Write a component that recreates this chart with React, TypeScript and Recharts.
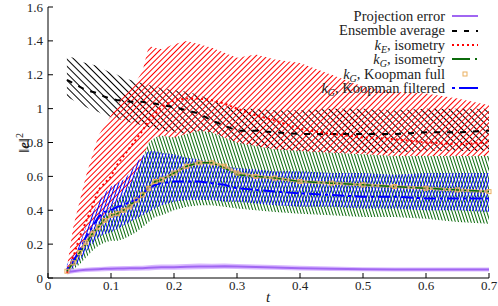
import React from "react";
import { ComposedChart, Area, Line, XAxis, YAxis } from "recharts";

const t = [0.03, 0.04, 0.05, 0.06, 0.07, 0.08, 0.09, 0.1, 0.11, 0.12, 0.13, 0.14, 0.15, 0.16, 0.17, 0.18, 0.2, 0.22, 0.24, 0.26, 0.28, 0.3, 0.33, 0.36, 0.4, 0.45, 0.5, 0.55, 0.6, 0.65, 0.7];

const projErr = [0.035, 0.04, 0.045, 0.048, 0.05, 0.052, 0.054, 0.055, 0.056, 0.056, 0.057, 0.057, 0.058, 0.06, 0.062, 0.063, 0.064, 0.066, 0.068, 0.068, 0.07, 0.068, 0.065, 0.062, 0.058, 0.055, 0.052, 0.05, 0.05, 0.05, 0.05];
const projLo = [0.02, 0.028, 0.032, 0.035, 0.037, 0.039, 0.04, 0.041, 0.042, 0.042, 0.043, 0.043, 0.044, 0.045, 0.047, 0.048, 0.049, 0.05, 0.052, 0.053, 0.054, 0.053, 0.05, 0.048, 0.045, 0.042, 0.04, 0.038, 0.038, 0.038, 0.038];
const projHi = [0.05, 0.054, 0.058, 0.061, 0.063, 0.065, 0.067, 0.069, 0.07, 0.071, 0.071, 0.072, 0.073, 0.075, 0.078, 0.079, 0.08, 0.082, 0.085, 0.084, 0.086, 0.083, 0.08, 0.077, 0.072, 0.068, 0.064, 0.062, 0.062, 0.062, 0.062];

const ensMean = [1.17, 1.15, 1.13, 1.11, 1.1, 1.09, 1.07, 1.06, 1.05, 1.05, 1.04, 1.04, 1.04, 1.03, 1.03, 1.02, 1.01, 0.99, 0.97, 0.93, 0.9, 0.87, 0.87, 0.86, 0.85, 0.85, 0.85, 0.85, 0.86, 0.86, 0.87];
const ensLo = [1.07, 1.05, 1.03, 1.01, 0.99, 0.98, 0.96, 0.95, 0.94, 0.93, 0.92, 0.91, 0.9, 0.89, 0.88, 0.87, 0.86, 0.85, 0.82, 0.79, 0.77, 0.75, 0.75, 0.74, 0.74, 0.74, 0.74, 0.74, 0.75, 0.75, 0.75];
const ensHi = [1.31, 1.3, 1.28, 1.27, 1.26, 1.25, 1.23, 1.21, 1.2, 1.18, 1.17, 1.16, 1.15, 1.14, 1.13, 1.12, 1.11, 1.1, 1.08, 1.05, 1.02, 1.0, 1.0, 0.99, 0.99, 1.0, 1.0, 0.99, 1.0, 1.0, 1.0];

const kEMean = [0.03, 0.12, 0.24, 0.33, 0.42, 0.52, 0.56, 0.6, 0.67, 0.72, 0.77, 0.82, 0.87, 0.93, 0.97, 1.01, 1.05, 1.06, 1.06, 1.05, 1.03, 1.0, 0.96, 0.93, 0.88, 0.85, 0.83, 0.82, 0.8, 0.79, 0.8];
const kELo = [0.03, 0.07, 0.13, 0.2, 0.27, 0.33, 0.38, 0.42, 0.46, 0.5, 0.55, 0.6, 0.64, 0.68, 0.72, 0.76, 0.8, 0.83, 0.84, 0.83, 0.8, 0.78, 0.75, 0.72, 0.7, 0.68, 0.66, 0.65, 0.63, 0.62, 0.6];
const kEHi = [0.06, 0.3, 0.45, 0.6, 0.72, 0.84, 0.9, 0.96, 1.02, 1.08, 1.12, 1.16, 1.22, 1.37, 1.36, 1.35, 1.38, 1.4, 1.38, 1.36, 1.33, 1.3, 1.32, 1.29, 1.27, 1.2, 1.13, 1.1, 1.09, 1.06, 1.02];

const kGIsoMean = [0.04, 0.09, 0.15, 0.2, 0.26, 0.3, 0.35, 0.37, 0.38, 0.4, 0.43, 0.46, 0.49, 0.54, 0.57, 0.58, 0.62, 0.66, 0.68, 0.68, 0.65, 0.61, 0.6, 0.59, 0.57, 0.56, 0.55, 0.54, 0.53, 0.52, 0.51];
const kGIsoLo = [0.03, 0.05, 0.08, 0.12, 0.16, 0.19, 0.21, 0.22, 0.22, 0.23, 0.25, 0.27, 0.3, 0.33, 0.36, 0.37, 0.4, 0.42, 0.43, 0.43, 0.42, 0.41, 0.4, 0.39, 0.38, 0.37, 0.36, 0.36, 0.35, 0.33, 0.32];
const kGIsoHi = [0.05, 0.1, 0.15, 0.22, 0.28, 0.33, 0.38, 0.42, 0.46, 0.5, 0.55, 0.62, 0.7, 0.8, 0.83, 0.84, 0.83, 0.85, 0.87, 0.86, 0.83, 0.8, 0.78, 0.76, 0.75, 0.74, 0.73, 0.72, 0.72, 0.72, 0.72];

const kGFull = [0.04, 0.09, 0.15, 0.21, 0.26, 0.3, 0.34, 0.37, 0.38, 0.4, 0.42, 0.46, 0.49, 0.53, 0.57, 0.58, 0.62, 0.66, 0.68, 0.68, 0.66, 0.62, 0.6, 0.59, 0.57, 0.56, 0.55, 0.54, 0.53, 0.52, 0.51];

const kGFiltMean = [0.05, 0.1, 0.16, 0.24, 0.3, 0.36, 0.39, 0.4, 0.42, 0.43, 0.45, 0.46, 0.5, 0.53, 0.55, 0.56, 0.57, 0.57, 0.57, 0.56, 0.55, 0.53, 0.52, 0.51, 0.5, 0.49, 0.48, 0.48, 0.47, 0.47, 0.47];
const kGFiltLo = [0.03, 0.06, 0.1, 0.15, 0.2, 0.24, 0.26, 0.27, 0.29, 0.31, 0.33, 0.35, 0.37, 0.39, 0.41, 0.43, 0.45, 0.46, 0.46, 0.46, 0.45, 0.45, 0.44, 0.43, 0.42, 0.42, 0.41, 0.41, 0.4, 0.4, 0.39];
const kGFiltHi = [0.08, 0.13, 0.2, 0.3, 0.38, 0.45, 0.5, 0.54, 0.56, 0.58, 0.62, 0.68, 0.72, 0.75, 0.75, 0.74, 0.73, 0.71, 0.7, 0.68, 0.66, 0.65, 0.64, 0.63, 0.63, 0.62, 0.62, 0.61, 0.62, 0.62, 0.62];

const xTicks = [0, 0.1, 0.2, 0.3, 0.4, 0.5, 0.6, 0.7];
const yTicks = [0, 0.2, 0.4, 0.6, 0.8, 1, 1.2, 1.4, 1.6];

const data = t.map((x, i) => ({
  t: x,
  proj: projErr[i],
  projBand: [projLo[i], projHi[i]],
  ens: ensMean[i],
  ensBand: [ensLo[i], ensHi[i]],
  kE: kEMean[i],
  kEBand: [kELo[i], kEHi[i]],
  kGIso: kGIsoMean[i],
  kGIsoBand: [kGIsoLo[i], kGIsoHi[i]],
  kGFull: kGFull[i],
  kGFilt: kGFiltMean[i],
  kGFiltBand: [kGFiltLo[i], kGFiltHi[i]],
}));

const FONT = "'Liberation Serif', 'DejaVu Serif', serif";
const PURPLE = "#a066f2";
const GREEN = "#0b6b0b";
const ORANGE = "#eab060";

function Sq(props: any) {
  const { cx, cy } = props;
  if (cx == null || cy == null) return <g />;
  return <rect x={cx - 2} y={cy - 2} width={4} height={4} fill="none" stroke={ORANGE} strokeWidth={1} />;
}

const sub = (s: string) => <sub style={{ fontSize: 10, fontStyle: "italic", verticalAlign: "-3px", lineHeight: 0 }}>{s}</sub>;

const legendRows: { label: React.ReactNode; sample: React.ReactNode }[] = [
  { label: "Projection error", sample: <line x1={0} x2={26} y1={7} y2={7} stroke={PURPLE} strokeWidth={2} /> },
  { label: "Ensemble average", sample: <line x1={0} x2={26} y1={7} y2={7} stroke="#000" strokeWidth={2} strokeDasharray="5 7" /> },
  { label: <><i>k</i>{sub("E")}, isometry</>, sample: <line x1={0} x2={26} y1={7} y2={7} stroke="#f00" strokeWidth={2} strokeDasharray="2 3" /> },
  { label: <><i>k</i>{sub("G")}, isometry</>, sample: <line x1={0} x2={26} y1={7} y2={7} stroke={GREEN} strokeWidth={2} strokeDasharray="18 5 2 5" /> },
  { label: <><i>k</i>{sub("G")}, Koopman full</>, sample: <rect x={11} y={5} width={4} height={4} fill="none" stroke={ORANGE} /> },
  { label: <><i>k</i>{sub("G")}, Koopman filtered</>, sample: <line x1={0} x2={26} y1={7} y2={7} stroke="#00f" strokeWidth={2} strokeDasharray="3 4 19 4" /> },
];

export default function App() {
  return (
    <div style={{ position: "absolute", left: 0, top: 0, width: 498, height: 306, background: "#fff", fontFamily: FONT }}>
      <ComposedChart width={498} height={306} data={data} margin={{ top: 7, right: 9, bottom: 0, left: 0 }}>
        <defs>
          <pattern id="hBlack" width={5} height={5} patternUnits="userSpaceOnUse" patternTransform="rotate(-45)">
            <line x1={0} y1={0} x2={0} y2={5} stroke="#000" strokeWidth={1} shapeRendering="crispEdges" />
          </pattern>
          <pattern id="hRed" width={4} height={4} patternUnits="userSpaceOnUse" patternTransform="rotate(45)">
            <line x1={0} y1={0} x2={0} y2={4} stroke="#f00" strokeWidth={1} shapeRendering="crispEdges" />
          </pattern>
          <pattern id="hGreen" width={3} height={6} patternUnits="userSpaceOnUse" patternTransform="rotate(-18)">
            <rect x={0} y={0} width={3} height={6} fill="#fff" />
            <line x1={1} y1={0} x2={1} y2={6} stroke={GREEN} strokeWidth={1} shapeRendering="crispEdges" />
          </pattern>
          <pattern id="hBlue" width={3} height={6} patternUnits="userSpaceOnUse" patternTransform="rotate(18)">
            <line x1={1} y1={0} x2={1} y2={6} stroke="#00f" strokeWidth={1} shapeRendering="crispEdges" />
          </pattern>
        </defs>
        <XAxis
          dataKey="t"
          type="number"
          domain={[0, 0.7]}
          ticks={xTicks}
          interval={0}
          height={28}
          stroke="#000"
          tickSize={-5}
          tickMargin={8}
          tick={{ fill: "#222", fontSize: 13, fontFamily: FONT }}
        />
        <XAxis xAxisId="top" orientation="top" dataKey="t" type="number" domain={[0, 0.7]} ticks={xTicks} height={0} stroke="#000" tickSize={-5} tick={false} />
        <YAxis
          type="number"
          domain={[0, 1.6]}
          ticks={yTicks}
          interval={0}
          width={48}
          stroke="#000"
          tickSize={-5}
          tickMargin={10}
          tick={{ fill: "#222", fontSize: 13, fontFamily: FONT }}
        />
        <YAxis yAxisId="right" orientation="right" type="number" domain={[0, 1.6]} ticks={yTicks} width={0} stroke="#000" tickSize={-5} tick={false} />

        <Area dataKey="ensBand" stroke="none" fill="url(#hBlack)" fillOpacity={1} isAnimationActive={false} activeDot={false} />
        <Area dataKey="kEBand" stroke="none" fill="url(#hRed)" fillOpacity={1} isAnimationActive={false} activeDot={false} />
        <Area dataKey="kGIsoBand" stroke="none" fill="url(#hGreen)" fillOpacity={1} isAnimationActive={false} activeDot={false} />
        <Area dataKey="kGFiltBand" stroke="none" fill="url(#hBlue)" fillOpacity={1} isAnimationActive={false} activeDot={false} />
        <Area dataKey="projBand" stroke="none" fill="#cfa8ff" fillOpacity={0.8} isAnimationActive={false} activeDot={false} />

        <Line dataKey="proj" stroke={PURPLE} strokeWidth={2} dot={false} isAnimationActive={false} />
        <Line dataKey="ens" stroke="#000" strokeWidth={2} strokeDasharray="6 7" dot={false} isAnimationActive={false} />
        <Line dataKey="kE" stroke="#f00" strokeWidth={2} strokeDasharray="2 3" dot={false} isAnimationActive={false} />
        <Line dataKey="kGFull" stroke={ORANGE} strokeWidth={3} strokeOpacity={0.7} dot={<Sq />} isAnimationActive={false} />
        <Line dataKey="kGIso" stroke={GREEN} strokeWidth={1.5} strokeDasharray="10 3 2 3" dot={false} isAnimationActive={false} />
        <Line dataKey="kGFilt" stroke="#00f" strokeWidth={2} strokeDasharray="3 4 12 4" dot={false} isAnimationActive={false} />
      </ComposedChart>

      <div style={{ position: "absolute", left: 22, top: 143, transform: "translate(-50%, -50%) rotate(-90deg)", fontSize: 15, color: "#222", whiteSpace: "nowrap", lineHeight: "16px" }}>
        ‖<b><i>e</i></b>‖<sup style={{ fontSize: 10 }}>2</sup>
      </div>
      <div style={{ position: "absolute", left: 268, top: 297, transform: "translate(-50%, -50%)", fontSize: 15, fontStyle: "italic", color: "#222", lineHeight: "16px" }}>t</div>

      <div style={{ position: "absolute", right: 20, top: 9, fontSize: 14.5, color: "#222" }}>
        {legendRows.map((r, i) => (
          <div key={i} style={{ display: "flex", justifyContent: "flex-end", alignItems: "center", height: 14.4, lineHeight: "14.4px" }}>
            <span style={{ whiteSpace: "nowrap" }}>{r.label}</span>
            <svg width={26} height={14} style={{ marginLeft: 7 }}>{r.sample}</svg>
          </div>
        ))}
      </div>
    </div>
  );
}
